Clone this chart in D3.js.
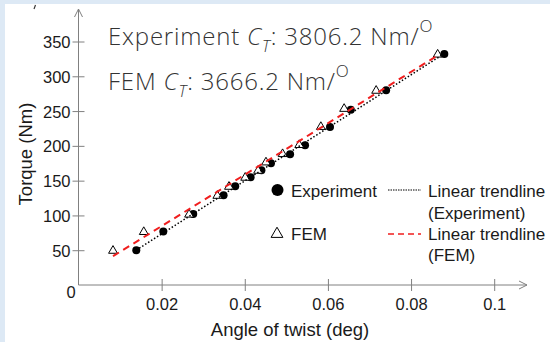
<!DOCTYPE html>
<html>
<head>
<meta charset="utf-8">
<script src="https://cdn.jsdelivr.net/npm/d3@7"></script>
<style>
  body { margin: 0; background: #dde9f5; }
  svg { display: block; }
</style>
</head>
<body>
<div id="chart"></div>
<script>
// data
var expAngle  = [0.0139, 0.0204, 0.0276, 0.0349, 0.0377, 0.0414, 0.0440, 0.0463, 0.0509, 0.0545, 0.0605, 0.0655, 0.0740, 0.0880];
var expTorque = [50, 77, 102, 129, 142, 155, 165, 175, 188, 201, 227, 252, 280, 332];
var femAngle  = [0.0083, 0.0157, 0.0266, 0.0334, 0.0362, 0.0401, 0.0432, 0.0451, 0.0491, 0.0531, 0.0583, 0.0639, 0.0716, 0.0864];
var femTorque = [50, 77, 102, 129, 142, 155, 165, 177, 189, 202, 228, 254, 280, 332];
var xTicks = [0.02, 0.04, 0.06, 0.08, 0.1];
var xTickLabels = ["0.02", "0.04", "0.06", "0.08", "0.1"];
var yTicks = [50, 100, 150, 200, 250, 300, 350];

var W = 550, H = 342;
var svg = d3.select("#chart").append("svg")
  .attr("width", W).attr("height", H);

// white panel
svg.append("rect").attr("x", 5).attr("y", 4).attr("width", W - 5).attr("height", H - 4).attr("fill", "#fff");

var x = d3.scaleLinear().domain([0, 0.1]).range([78.5, 494.2]);
var y = d3.scaleLinear().domain([0, 350]).range([285, 41.5]);

var axisColor = "#808080";
var font = "'Liberation Sans', Arial, sans-serif";

// y axis
var yAxis = svg.append("g")
  .attr("transform", "translate(" + x(0) + ",0)")
  .call(d3.axisLeft(y).tickValues(yTicks).tickSize(0).tickPadding(8));
yAxis.select(".domain").remove();
yAxis.selectAll(".tick line").attr("x1", -6).attr("x2", 6).attr("stroke", axisColor);
yAxis.selectAll(".tick text").attr("font-family", font).attr("font-size", 16.5).attr("fill", "#1a1a1a").attr("dy", "0.36em");

// x axis
var xAxis = svg.append("g")
  .attr("transform", "translate(0," + y(0) + ")")
  .call(d3.axisBottom(x).tickValues(xTicks).tickSize(0).tickPadding(13)
    .tickFormat(function(d, i) { return xTickLabels[i]; }));
xAxis.select(".domain").remove();
xAxis.selectAll(".tick line").attr("y1", -6).attr("y2", 6).attr("stroke", axisColor);
xAxis.selectAll(".tick text").attr("font-family", font).attr("font-size", 16.5).attr("fill", "#1a1a1a");

// axis lines with open arrow heads
var axes = svg.append("g").attr("stroke", axisColor).attr("fill", "none").attr("stroke-width", 1);
axes.append("path").attr("d", "M" + x(0) + "," + y(0) + "V9");
axes.append("path").attr("d", "M" + (x(0) - 4) + ",17L" + x(0) + ",9L" + (x(0) + 4) + ",17");
axes.append("path").attr("d", "M" + x(0) + "," + y(0) + "H527");
axes.append("path").attr("d", "M519," + (y(0) - 4) + "L527," + y(0) + "L519," + (y(0) + 4));

svg.append("text").attr("x", 71).attr("y", 298).attr("text-anchor", "middle")
  .attr("font-family", font).attr("font-size", 16.5).attr("fill", "#1a1a1a").text("0");

// axis titles
svg.append("text").attr("x", 290).attr("y", 336).attr("text-anchor", "middle")
  .attr("font-family", font).attr("font-size", 18.5).attr("fill", "#1a1a1a")
  .text("Angle of twist (deg)");
svg.append("text").attr("transform", "translate(32,154) rotate(-90)").attr("text-anchor", "middle")
  .attr("font-family", font).attr("font-size", 18.5).attr("fill", "#1a1a1a")
  .text("Torque (Nm)");

// stray mark top-left
svg.append("path").attr("d", "M34,9L35.5,5").attr("stroke", "#333").attr("stroke-width", 1.2);

// linear fits
function fit(xs, ys) {
  var mx = d3.mean(xs), my = d3.mean(ys);
  var sxy = d3.sum(xs, function(v, i) { return (v - mx) * (ys[i] - my); });
  var sxx = d3.sum(xs, function(v) { return (v - mx) * (v - mx); });
  var b = sxy / sxx;
  return { b: b, a: my - b * mx };
}
var expFit = fit(expAngle, expTorque);
var femFit = fit(femAngle, femTorque);

var expPts = expAngle.map(function(v, i) { return [v, expTorque[i]]; });
var femPts = femAngle.map(function(v, i) { return [v, femTorque[i]]; });

svg.append("g").selectAll("circle").data(expPts).enter().append("circle")
  .attr("cx", function(d) { return x(d[0]); })
  .attr("cy", function(d) { return y(d[1]); })
  .attr("r", 4).attr("fill", "#000");

var tri = d3.symbol().type(d3.symbolTriangle).size(34);
svg.append("g").selectAll("path").data(femPts).enter().append("path")
  .attr("d", tri)
  .attr("transform", function(d) { return "translate(" + x(d[0]) + "," + (y(d[1]) + 0.5) + ")"; })
  .attr("fill", "#fff").attr("stroke", "#000").attr("stroke-width", 1);

var line = d3.line().x(function(d) { return x(d[0]); }).y(function(d) { return y(d[1]); });
var e0 = d3.min(expAngle), e1 = d3.max(expAngle);
var f0 = d3.min(femAngle), f1 = d3.max(femAngle);
svg.append("path")
  .attr("d", line([[e0, expFit.a + expFit.b * e0], [e1, expFit.a + expFit.b * e1]]))
  .attr("stroke", "#000").attr("stroke-width", 1.5).attr("stroke-dasharray", "1.5,2").attr("fill", "none");
svg.append("path")
  .attr("d", line([[f0, femFit.a + femFit.b * f0], [f1, femFit.a + femFit.b * f1]]))
  .attr("stroke", "#f01e1e").attr("stroke-width", 2).attr("stroke-dasharray", "7,5").attr("fill", "none");

// stiffness annotations
var annFont = "'Open Sans', 'Noto Sans', sans-serif";
function ann(yPos, label, value) {
  var t = svg.append("text").attr("x", 108).attr("y", yPos)
    .attr("font-family", annFont).attr("font-size", 24).attr("font-weight", 300)
    .attr("letter-spacing", 0.8).attr("fill", "#333");
  t.append("tspan").text(label + " ");
  t.append("tspan").attr("font-style", "italic").text("C");
  t.append("tspan").attr("font-style", "italic").attr("font-size", 16).attr("dy", 7).text("T");
  t.append("tspan").attr("dy", -7).text(": " + value + " Nm/");
  t.append("tspan").attr("font-size", 17).attr("dy", -13).text("O");
}
ann(45, "Experiment", "3806.2");
ann(90, "FEM", "3666.2");

// legend
var lg = svg.append("g").attr("font-family", font).attr("font-size", 17).attr("fill", "#1a1a1a");
lg.append("circle").attr("cx", 277.5).attr("cy", 190).attr("r", 6).attr("fill", "#000");
lg.append("text").attr("x", 291).attr("y", 197).text("Experiment");
lg.append("path").attr("d", d3.symbol().type(d3.symbolTriangle).size(60))
  .attr("transform", "translate(277,234)").attr("fill", "#fff").attr("stroke", "#000");
lg.append("text").attr("x", 291).attr("y", 240).text("FEM");
lg.append("path").attr("d", "M388,190H421").attr("stroke", "#000").attr("stroke-width", 1).attr("stroke-dasharray", "1.5,1");
lg.append("path").attr("d", "M388,234H421").attr("stroke", "#f01e1e").attr("stroke-width", 1.5).attr("stroke-dasharray", "6,4");
lg.append("text").attr("x", 428).attr("y", 197).text("Linear trendline");
lg.append("text").attr("x", 428).attr("y", 219).text("(Experiment)");
lg.append("text").attr("x", 428).attr("y", 240).text("Linear trendline");
lg.append("text").attr("x", 428).attr("y", 261).text("(FEM)");
</script>
</body>
</html>
